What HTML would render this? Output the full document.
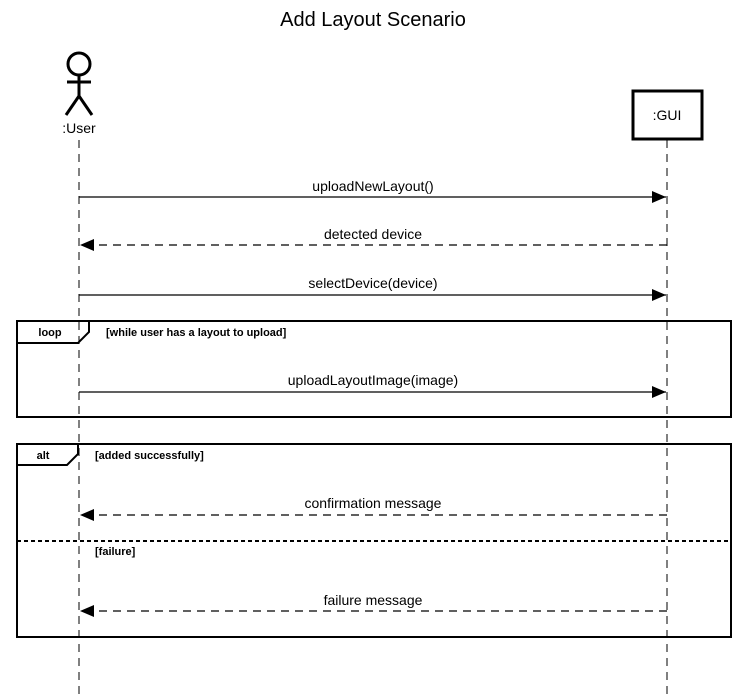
<!DOCTYPE html>
<html><head><style>body{margin:0;background:#fff}svg{display:block}</style></head><body>
<svg width="746" height="699" xmlns="http://www.w3.org/2000/svg" font-family="Liberation Sans, Arial, sans-serif">
<defs><marker id="a" markerWidth="14" markerHeight="12" refX="14" refY="6" orient="auto" markerUnits="userSpaceOnUse"><path d="M0,0 L14,6 L0,12 Z" fill="#000"/></marker></defs>
<text x="373" y="26" font-size="20" text-anchor="middle">Add Layout Scenario</text>
<g stroke="#000" stroke-width="3" fill="none">
<circle cx="79" cy="64" r="11"/>
<line x1="79" y1="75" x2="79" y2="97"/>
<line x1="67" y1="82" x2="91" y2="82"/>
<line x1="79" y1="96" x2="66" y2="115"/>
<line x1="79" y1="96" x2="92" y2="115"/>
<rect x="633" y="91" width="69" height="48"/>
</g>
<text x="79" y="133" font-size="14" text-anchor="middle">:User</text>
<text x="667" y="120" font-size="14" text-anchor="middle">:GUI</text>
<g stroke="#000" stroke-width="1" stroke-dasharray="8,6">
<line x1="79" y1="140" x2="79" y2="699"/>
<line x1="667" y1="140" x2="667" y2="699"/>
</g>
<g font-size="14" text-anchor="middle">
<text x="373" y="191">uploadNewLayout()</text>
<text x="373" y="239">detected device</text>
<text x="373" y="288">selectDevice(device)</text>
<text x="373" y="385">uploadLayoutImage(image)</text>
<text x="373" y="508">confirmation message</text>
<text x="373" y="605">failure message</text>
</g>
<g stroke="#000" stroke-width="1.3">
<line x1="79" y1="197" x2="666" y2="197" marker-end="url(#a)"/>
<line x1="79" y1="295" x2="666" y2="295" marker-end="url(#a)"/>
<line x1="79" y1="392" x2="666" y2="392" marker-end="url(#a)"/>
<line x1="667" y1="245" x2="80" y2="245" stroke-dasharray="8,6" marker-end="url(#a)"/>
<line x1="667" y1="515" x2="80" y2="515" stroke-dasharray="8,6" marker-end="url(#a)"/>
<line x1="667" y1="611" x2="80" y2="611" stroke-dasharray="8,6" marker-end="url(#a)"/>
</g>
<g stroke="#000" stroke-width="2" fill="none">
<rect x="17" y="321" width="714" height="96"/>
<path d="M17,343 H78 L89,332 V321"/>
<rect x="17" y="444" width="714" height="193"/>
<path d="M17,465 H67 L78,454 V444"/>
<line x1="17" y1="541" x2="731" y2="541" stroke-dasharray="4,3"/>
</g>
<g font-size="11" font-weight="bold">
<text x="50" y="336" text-anchor="middle">loop</text>
<text x="106" y="336">[while user has a layout to upload]</text>
<text x="43" y="459" text-anchor="middle">alt</text>
<text x="95" y="459">[added successfully]</text>
<text x="95" y="555">[failure]</text>
</g>
</svg>
</body></html>
